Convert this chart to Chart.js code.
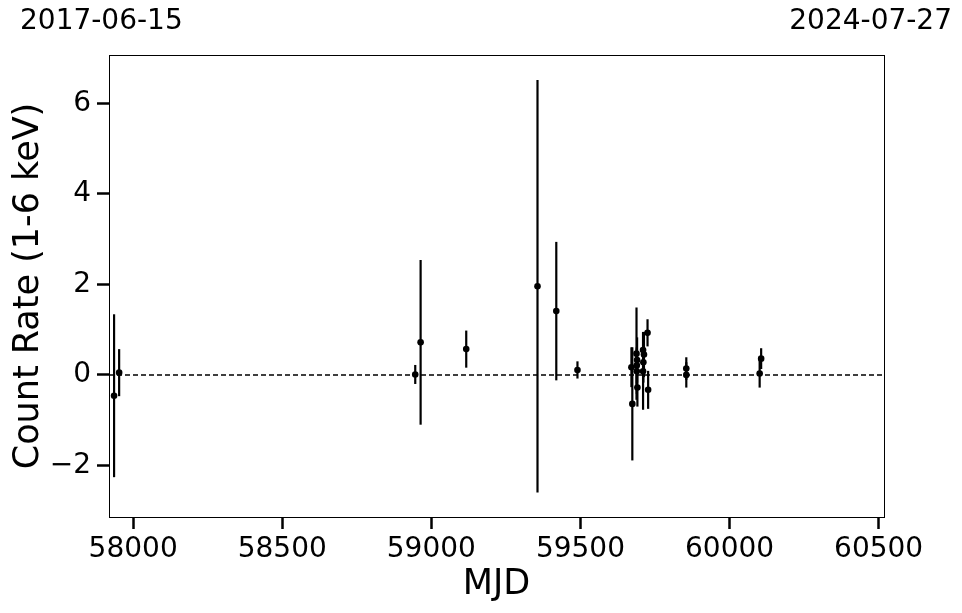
<!DOCTYPE html>
<html>
<head>
<meta charset="utf-8">
<script src="https://cdn.jsdelivr.net/npm/chart.js@4.4.1/dist/chart.umd.min.js"></script>
<style>
  html, body { margin: 0; padding: 0; background: #fff; }
  #wrap { width: 962px; height: 613px; }
</style>
</head>
<body>
<div id="wrap"><canvas id="lc" width="962" height="613"></canvas></div>
<script>
const mjd = [57936, 57953, 58946, 58964, 59117, 59356, 59419, 59490,
  59671, 59674, 59688, 59690, 59689, 59689, 59691,
  59710, 59713, 59711, 59710, 59725, 59727,
  59855, 59855, 60106, 60101];
const rate = [-0.46, 0.05, 0.01, 0.72, 0.57, 1.96, 1.41, 0.11,
  0.17, -0.64, 0.47, 0.33, 0.21, 0.08, -0.28,
  0.55, 0.45, 0.28, 0.08, 0.93, -0.33,
  0.14, 0.0, 0.36, 0.03];
const rateErr = [1.8, 0.52, 0.21, 1.82, 0.41, 4.56, 1.53, 0.19,
  0.44, 1.25, 1.02, 0.5, 0.4, 0.5, 0.42,
  0.4, 0.5, 0.45, 0.85, 0.3, 0.42,
  0.25, 0.28, 0.23, 0.31];

const xTicks = [58000, 58500, 59000, 59500, 60000, 60500];
const yTicks = [-2, 0, 2, 4, 6];
const startDate = '2017-06-15';
const endDate = '2024-07-27';
const xMin = 57919, xMax = 60518;

const pts = mjd.map((m, i) => ({x: m, y: rate[i]}));

// vertical error bars, drawn through the chart scales
const errorBars = {
  id: 'errorBars',
  beforeDatasetsDraw(chart) {
    const {ctx, chartArea, scales: {x, y}} = chart;
    ctx.save();
    ctx.beginPath();
    ctx.rect(chartArea.left, chartArea.top, chartArea.right - chartArea.left, chartArea.bottom - chartArea.top);
    ctx.clip();
    ctx.strokeStyle = '#000';
    ctx.lineWidth = 2.2;
    mjd.forEach((m, i) => {
      const px = x.getPixelForValue(m);
      ctx.beginPath();
      ctx.moveTo(px, y.getPixelForValue(rate[i] + rateErr[i]));
      ctx.lineTo(px, y.getPixelForValue(rate[i] - rateErr[i]));
      ctx.stroke();
    });
    ctx.restore();
  }
};

// frame around the plot and the two date labels on top
const frame = {
  id: 'frame',
  afterDraw(chart) {
    const {ctx, chartArea: a} = chart;
    ctx.save();
    ctx.strokeStyle = '#000';
    ctx.lineWidth = 1;
    ctx.strokeRect(a.left + 0.5, a.top + 0.5, a.right - a.left, a.bottom - a.top);
    ctx.fillStyle = '#000';
    ctx.font = '28px "DejaVu Sans"';
    ctx.textBaseline = 'middle';
    ctx.textAlign = 'left';
    ctx.fillText(startDate, 20, 22);
    ctx.textAlign = 'right';
    ctx.fillText(endDate, 952, 22);
    ctx.restore();
  }
};

new Chart(document.getElementById('lc').getContext('2d'), {
  type: 'scatter',
  data: {
    datasets: [{
      data: pts,
      backgroundColor: '#000',
      borderColor: '#000',
      pointRadius: 3.3,
      pointHoverRadius: 3.3,
      borderWidth: 0
    }, {
      type: 'line',
      data: [{x: xMin, y: 0}, {x: xMax, y: 0}],
      borderColor: '#000',
      borderWidth: 1.5,
      borderDash: [5, 3],
      pointRadius: 0,
      fill: false
    }]
  },
  options: {
    responsive: false,
    animation: false,
    layout: { padding: { top: 55, right: 78, left: 0, bottom: 0 } },
    plugins: { legend: { display: false }, tooltip: { enabled: false } },
    scales: {
      x: {
        type: 'linear',
        min: xMin,
        max: xMax,
        afterBuildTicks: s => { s.ticks = xTicks.map(v => ({value: v})); },
        afterFit: s => { s.height = 96; },
        grid: { drawOnChartArea: false, drawTicks: true, tickLength: 12, tickWidth: 2.5, tickColor: '#000' },
        border: { display: true, color: '#000', width: 1 },
        ticks: { color: '#000', padding: 4, maxRotation: 0, callback: v => String(v), font: { family: 'DejaVu Sans', size: 28 } },
        title: { display: true, text: 'MJD', color: '#000', padding: { top: 0, bottom: 7 }, font: { family: 'DejaVu Sans', size: 35 } }
      },
      y: {
        min: -3.14,
        max: 7.07,
        afterBuildTicks: s => { s.ticks = yTicks.map(v => ({value: v})); },
        afterFit: s => { s.width = 109; },
        grid: { drawOnChartArea: false, drawTicks: true, tickLength: 12, tickWidth: 2.5, tickColor: '#000' },
        border: { display: true, color: '#000', width: 1 },
        ticks: { color: '#000', padding: 6, callback: v => (v < 0 ? '\u2212' + Math.abs(v) : String(v)), font: { family: 'DejaVu Sans', size: 28 } },
        title: { display: true, text: 'Count Rate (1-6 keV)', color: '#000', padding: { top: 8, bottom: 0 }, font: { family: 'DejaVu Sans', size: 35 } }
      }
    }
  },
  plugins: [errorBars, frame]
});
</script>
</body>
</html>
